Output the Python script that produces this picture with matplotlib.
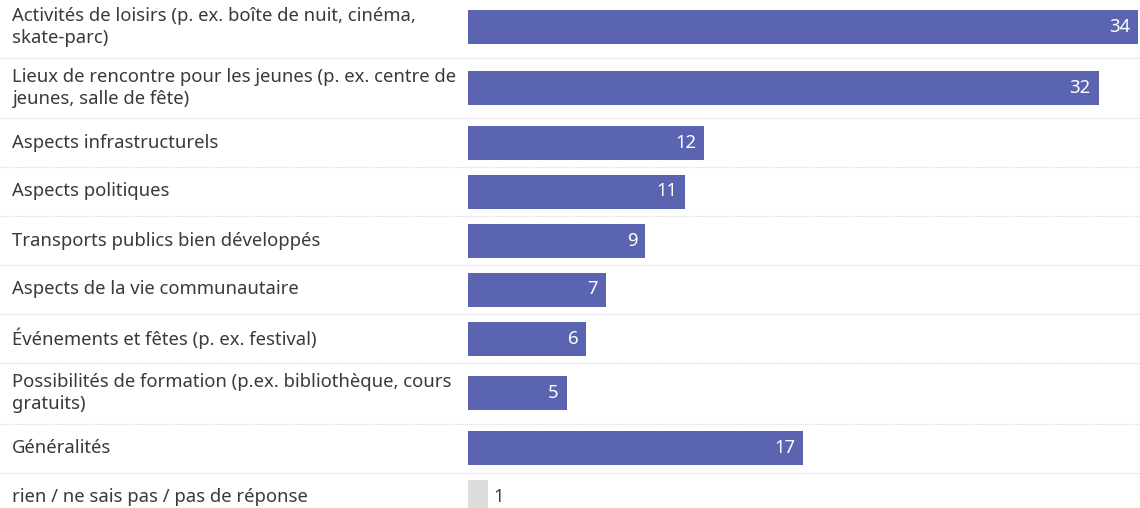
import matplotlib.pyplot as plt
from matplotlib.transforms import blended_transform_factory

plt.rcParams['font.family'] = ['Noto Sans', 'DejaVu Sans']

categories = [
    'Activités de loisirs (p. ex. boîte de nuit, cinéma,\nskate-parc)',
    'Lieux de rencontre pour les jeunes (p. ex. centre de\njeunes, salle de fête)',
    'Aspects infrastructurels',
    'Aspects politiques',
    'Transports publics bien développés',
    'Aspects de la vie communautaire',
    'Événements et fêtes (p. ex. festival)',
    'Possibilités de formation (p.ex. bibliothèque, cours\ngratuits)',
    'Généralités',
    'rien / ne sais pas / pas de réponse',
]
values = [34, 32, 12, 11, 9, 7, 6, 5, 17, 1]
no_answer = 'rien / ne sais pas / pas de réponse'

W, H = 1140, 508
BAR_LEFT = 468
fig = plt.figure(figsize=(W / 100, H / 100), dpi=100)
ax = fig.add_axes([BAR_LEFT / W, 0, (W - BAR_LEFT) / W, 1])
ax.set_xlim(0, 34.1)
ax.set_ylim(H, 0)   # y in pixel-like units, top row first
ax.axis('off')

# row layout: two-line labels get taller rows
row_h = [60.5 if '\n' in c else 49 for c in categories]
centers, seps = [], []
y = -3
for h in row_h:
    centers.append(y + h / 2)
    y += h
    seps.append(y)

colors = ['#dddddd' if c == no_answer else '#5b64b0' for c in categories]
ax.barh(centers, values, height=34, color=colors)

fig_y = blended_transform_factory(fig.transFigure, ax.transData)
for c, yc in zip(categories, centers):
    ax.text(12 / W, yc, c, transform=fig_y, ha='left', va='center',
            fontsize=13.3, color='#3a3a3a', linespacing=1.3)

for s in seps[:-1]:
    ax.plot([0, 1], [s, s], transform=fig_y, color='#dadada', lw=0.8,
            ls=(0, (1, 1)), clip_on=False)

for c, v, yc in zip(categories, values, centers):
    if c == no_answer:
        ax.text(v + 0.3, yc, str(v), ha='left', va='center',
                fontsize=13.3, color='#3a3a3a')
    else:
        ax.text(v - 0.4, yc, str(v), ha='right', va='center',
                fontsize=13.3, color='white')

fig.savefig('out.png', dpi=100)
